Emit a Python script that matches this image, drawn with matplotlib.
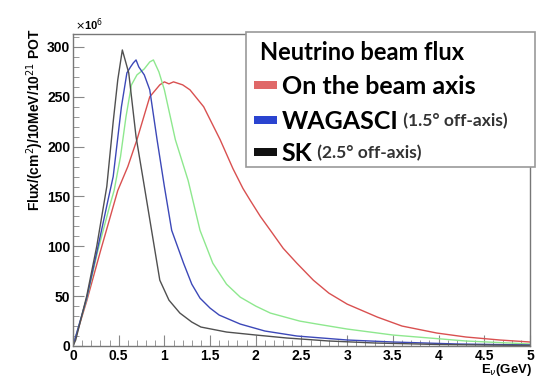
import matplotlib.pyplot as plt
from matplotlib.patches import Rectangle
from matplotlib.ticker import MultipleLocator

# flux curves (E in GeV, flux in 1e6 /cm2/10MeV/1e21 POT)
e_sk = [0, 0.03, 0.15, 0.26, 0.37, 0.44, 0.49, 0.54, 0.61, 0.69, 0.77, 0.86,
        0.95, 1.05, 1.17, 1.3, 1.4, 1.68, 2.0, 2.34, 2.8, 3.3, 4.0, 5.0]
f_sk = [0, 6, 50, 100, 160, 225, 267, 297, 274, 210, 166, 116,
        66, 46, 33, 24, 19, 14, 11, 8, 5, 3, 1.5, 0.5]

e_wag = [0, 0.15, 0.27, 0.38, 0.44, 0.53, 0.59, 0.63, 0.66, 0.69, 0.72, 0.78,
         0.84, 0.92, 1.0, 1.08, 1.21, 1.3, 1.39, 1.5, 1.6, 1.83, 2.1, 2.45, 3.0,
         3.5, 4.2, 5.0]
f_wag = [0, 48, 98, 145, 170, 240, 274, 280, 284, 287, 280, 272,
         257, 207, 160, 116, 83, 62, 48, 38, 31, 22, 15, 10, 6,
         4, 2, 1]

e_mid = [0, 0.15, 0.27, 0.4, 0.45, 0.52, 0.58, 0.64, 0.7, 0.78, 0.84, 0.88,
         0.94, 1.0, 1.12, 1.26, 1.39, 1.53, 1.68, 1.83, 2.0, 2.16, 2.48, 2.67,
         3.0, 3.5, 4.3, 5.0]
f_mid = [0, 47, 95, 140, 156, 190, 230, 262, 272, 278, 285, 287,
         275, 257, 207, 166, 116, 83, 62, 49, 40, 33, 25, 22,
         17, 11, 5, 2]

e_on = [0, 0.15, 0.3, 0.49, 0.6, 0.7, 0.84, 0.95, 1.0, 1.05, 1.1, 1.2, 1.28,
        1.43, 1.61, 1.75, 1.86, 1.94, 2.05, 2.16, 2.3, 2.45, 2.63, 2.8, 3.0,
        3.33, 3.6, 3.98, 4.3, 4.67, 5.0]
f_on = [0, 45, 95, 156, 180, 207, 250, 262, 265, 263, 265, 262, 257,
        240, 207, 178, 158, 146, 130, 116, 98, 83, 66, 53, 42,
        29, 20, 13, 9, 6, 4]

x_ticks = [0, 0.5, 1, 1.5, 2, 2.5, 3, 3.5, 4, 4.5, 5]
x_tick_labels = ["0", "0.5", "1", "1.5", "2", "2.5", "3", "3.5", "4", "4.5", "5"]
y_ticks = [0, 50, 100, 150, 200, 250, 300]

plt.rcParams['font.family'] = ['Liberation Sans', 'DejaVu Sans']

fig = plt.figure(figsize=(5.43, 3.78), dpi=100)
ax = fig.add_axes([0.1344, 0.0847, 0.8416, 0.8253])

ax.plot(e_on, f_on, color='#d95050', lw=1.0)
ax.plot(e_mid, f_mid, color='#8ee88e', lw=1.0)
ax.plot(e_wag, f_wag, color='#3c48b8', lw=1.0)
ax.plot(e_sk, f_sk, color='#505050', lw=1.0)

ax.set_xlim(0, 5)
ax.set_ylim(0, 313)
ax.set_xticks(x_ticks)
ax.set_xticklabels(x_tick_labels)
ax.set_yticks(y_ticks)
ax.xaxis.set_minor_locator(MultipleLocator(0.1))
ax.yaxis.set_minor_locator(MultipleLocator(10))
ax.tick_params(which='both', direction='in', color='#888888', top=False, right=False)
ax.tick_params(which='major', length=8, labelsize=10)
ax.tick_params(axis='y', which='major', pad=2)
ax.tick_params(axis='x', which='major', pad=2)
ax.tick_params(which='minor', length=4)
for lab in ax.get_xticklabels() + ax.get_yticklabels():
    lab.set_fontweight('bold')
for s in ax.spines.values():
    s.set_color('#777777')
    s.set_linewidth(1.0)

fig.text(0.138, 0.912, r'$\times$10$^6$', fontsize=8, fontweight='bold', va='bottom')
fig.text(0.064, 0.683, r'Flux/(cm$^2$)/10MeV/10$^{21}$ POT', rotation=90, fontsize=10,
         fontweight='bold', ha='center', va='center')
fig.text(0.98, 0.0, r'E$_\nu$(GeV)', fontsize=9.5, fontweight='bold', ha='right', va='bottom')

# legend box built by hand in figure coordinates
fig.patches.append(Rectangle((0.453, 0.558), 0.532, 0.357, transform=fig.transFigure,
                             facecolor='white', edgecolor='#999999', lw=1.2, zorder=5))
fig.text(0.479, 0.862, 'Neutrino beam flux', fontsize=17, fontweight='bold',
         family='Lato', va='center', zorder=6)
rows = [(0.775, '#e06868', 'On the beam axis', ''),
        (0.683, '#2a44d0', 'WAGASCI', ' (1.5\u00b0 off-axis)'),
        (0.598, '#111111', 'SK', ' (2.5\u00b0 off-axis)')]
for y, c, big, small in rows:
    fig.patches.append(Rectangle((0.468, y - 0.011), 0.043, 0.022, transform=fig.transFigure,
                                 facecolor=c, edgecolor='none', zorder=6))
    t = fig.text(0.519, y - 0.004, big, fontsize=18, fontweight='bold', family='Lato',
                 va='center', zorder=6)
    if small:
        fig.canvas.draw()
        bb = t.get_window_extent()
        fig.text(bb.x1 / fig.bbox.width, y - 0.004, small, fontsize=12.5, fontweight='bold',
                 family='Lato', color='#333333', va='center', zorder=6)

fig.savefig('out.png', dpi=100)
